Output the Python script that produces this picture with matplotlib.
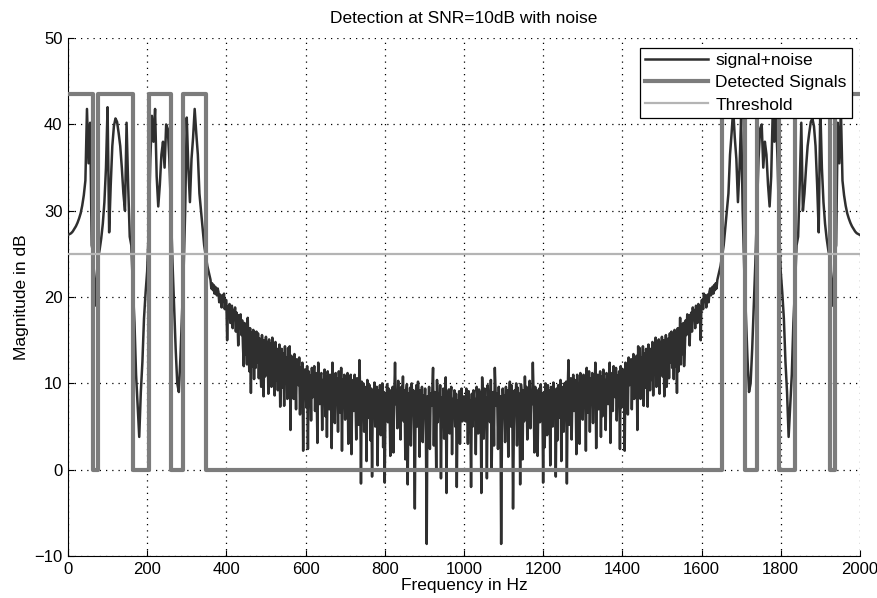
import numpy as np
import matplotlib
matplotlib.use('Agg')
import matplotlib.pyplot as plt

# Spectrum magnitude in dB.
# The FFT of a real signal is mirror-symmetric about 1000 Hz,
# so only 0..1000 Hz is listed and the upper half is its reflection.

# 0..356 Hz, every 4 Hz: the tone region
mag_tones = [
    27.2, 27.3, 27.4, 27.6, 27.9, 28.2, 28.6, 29.1, 29.7, 30.6,
    31.8, 33.5, 41.8, 35.5, 40.2, 26.0, 25.0, 19.0, 22.0, 24.5,
    25.5, 26.8, 28.5, 31.0, 35.0, 42.0, 27.5, 33.0, 37.5, 39.8,
    40.7, 40.3, 39.0, 37.5, 35.0, 32.0, 30.0, 40.2, 33.0, 27.0,
    26.0, 21.0, 17.0, 11.0, 7.5, 3.8, 9.0, 12.5, 17.5, 20.5,
    23.0, 28.0, 36.0, 41.0, 38.0, 41.8, 34.0, 30.5, 33.0, 36.5,
    38.0, 35.0, 40.0, 39.5, 36.0, 30.0, 24.0, 19.0, 14.0, 10.0,
    9.0, 13.0, 18.0, 23.0, 30.0, 40.8, 35.0, 31.0, 36.0, 38.5,
    41.8, 39.0, 36.5, 32.0, 30.0, 28.0, 26.0, 24.8, 23.6, 22.8,
]

# 360..1000 Hz, every 2 Hz: noise floor
mag_floor = [
    22.0, 21.0, 21.6, 20.8, 21.4, 20.4, 21.2, 20.9, 20.2, 21.0,
    20.6, 19.4, 20.3, 19.8, 18.8, 20.2, 19.5, 20.4, 18.6, 19.7,
    19.6, 15.0, 18.9, 17.8, 19.2, 17.0, 18.6, 19.0, 16.4, 18.5,
    17.4, 18.8, 16.0, 18.2, 17.6, 14.4, 17.9, 16.8, 18.0, 15.6,
    17.3, 14.2, 12.0, 17.0, 13.4, 16.8, 12.2, 17.6, 14.0, 11.4,
    16.4, 8.9, 15.9, 12.0, 16.2, 10.5, 15.5, 11.8, 16.0, 12.4,
    15.8, 10.6, 15.2, 11.5, 9.6, 15.6, 12.0, 8.5, 15.0, 10.8,
    15.4, 11.0, 14.8, 8.8, 15.1, 10.8, 14.6, 9.6, 15.3, 11.6,
    14.2, 8.6, 14.8, 10.4, 14.0, 9.2, 13.2, 14.5, 7.3, 11.6,
    14.0, 9.5, 13.5, 7.4, 14.3, 10.0, 13.0, 8.2, 14.1, 10.6,
    14.3, 4.6, 13.2, 10.8, 12.6, 8.2, 13.4, 11.4, 7.0, 12.8,
    12.2, 9.8, 13.0, 6.4, 11.8, 10.6, 12.4, 2.2, 11.6, 9.2,
    11.6, 7.2, 12.0, 2.4, 11.4, 9.6, 10.9, 5.7, 11.8, 8.4,
    10.6, 12.0, 6.8, 11.2, 9.0, 3.1, 12.4, 10.2, 7.6, 11.0,
    11.2, 4.6, 10.4, 8.8, 11.6, 6.2, 10.8, 3.8, 11.4, 9.4,
    7.0, 11.0, 10.0, 2.5, 12.4, 9.2, 10.6, 5.4, 11.2, 8.0,
    10.6, 4.4, 11.4, 9.0, 6.6, 11.8, 2.2, 10.4, 8.6, 11.0,
    5.8, 10.8, 9.4, 11.2, 3.0, 10.0, 7.4, 11.0, 1.8, 9.6,
    10.4, 6.8, 11.0, 8.6, 3.5, 10.6, 9.2, 5.2, 12.7, 9.0,
    -1.6, 10.2, 7.8, 10.0, 4.4, 9.6, 8.2, 1.0, 10.4, 8.8,
    6.0, 9.8, 3.4, 9.4, -0.8, 9.0, 7.4, 10.1, 5.0, 8.6,
    9.6, 0.5, 9.2, 7.0, 9.8, 4.0, 8.4, 10.0, 2.6, 9.0,
    -1.5, 8.8, 6.4, 9.9, 5.5, 9.4, 8.0, 1.6, 9.2, 7.2,
    9.6, 2.0, 8.6, 12.4, 7.6, 9.0, 4.8, 10.3, 6.0, 9.4,
    3.5, 9.6, 7.2, 10.8, 5.6, 9.2, 1.2, 8.8, 9.9, -1.7,
    8.8, 6.4, 9.5, 2.8, 10.0, 7.8, 9.2, 4.5, -4.5, 8.4,
    9.8, 5.0, 10.2, 7.8, 1.5, 9.2, 6.6, 9.6, 3.2, 8.6,
    7.0, 9.4, 4.0, -8.6, 8.5, 6.0, 9.6, 2.4, 8.8, 7.4,
    9.0, 11.8, 2.8, 9.0, 7.2, 0.0, 10.4, 5.5, 8.8, 6.8,
    9.8, -1.0, 8.4, 6.2, 9.4, 3.6, 8.0, 10.7, -2.7, 9.0,
    7.5, 9.3, 4.2, 8.6, 9.6, 1.8, 8.2, 6.6, 9.2, 5.0,
    8.8, -2.0, 8.0, 6.2, 9.1, 3.0, 8.4, 9.4, 5.6, 7.8,
    8.5,
]

# detector output: bands (Hz) flagged as signal
det_start = [0, 76, 205, 290, 1652, 1740, 1836, 1937]
det_stop = [63, 164, 260, 348, 1710, 1795, 1924, 2000]
det_level = 43.5
threshold_db = 25

x_ticks = list(range(0, 2001, 200))
y_ticks = list(range(-10, 51, 10))

plt.rcParams['font.family'] = ['Liberation Sans', 'DejaVu Sans']
plt.rcParams['font.size'] = 12

freq_half = np.concatenate([np.arange(0, 360, 4), np.arange(360, 1001, 2)])
mag_half = np.array(mag_tones + mag_floor)
freq = np.concatenate([freq_half, 2000 - freq_half[-2::-1]])
mag = np.concatenate([mag_half, mag_half[-2::-1]])

# step trace for the detector
det_x, det_y = [], []
for s, e in zip(det_start, det_stop):
    if s > freq[0]:
        det_x.append(s)
        det_y.append(0)
    det_x += [s, e]
    det_y += [det_level, det_level]
    if e < freq[-1]:
        det_x.append(e)
        det_y.append(0)

fig = plt.figure(figsize=(8.77, 5.98), dpi=100)
ax = fig.add_axes([0.0775, 0.0702, 0.903, 0.866])

ax.plot(freq, mag, color='#2f2f2f', lw=1.8, label='signal+noise', zorder=3)
ax.plot(det_x, det_y, color='#7c7c7c', lw=3.0, label='Detected Signals', zorder=4)
ax.axhline(threshold_db, color='#b4b4b4', lw=1.6, label='Threshold', zorder=5)

ax.set_xlim(0, 2000)
ax.set_ylim(-10, 50)
ax.set_xticks(x_ticks)
ax.set_yticks(y_ticks)
ax.tick_params(direction='in', length=4, width=0.8, labelsize=12, pad=4)
ax.grid(True, color='black', linestyle=(0, (1, 4)), lw=0.9)
ax.set_axisbelow(True)
for side in ('top', 'right'):
    ax.spines[side].set_visible(False)

ax.set_title('Detection at SNR=10dB with noise', fontsize=12.5, pad=11)
ax.set_xlabel('Frequency in Hz', fontsize=12.5, labelpad=1)
ax.set_ylabel('Magnitude in dB', fontsize=12.5, labelpad=4)

leg = ax.legend(loc='upper right', bbox_to_anchor=(0.99, 0.981), borderaxespad=0,
                fontsize=12.5, handlelength=3.65, handletextpad=0.4, labelspacing=0.4,
                borderpad=0.3, fancybox=False, framealpha=1, edgecolor='black')
leg.get_frame().set_linewidth(0.9)

fig.savefig('out.png', dpi=100)
